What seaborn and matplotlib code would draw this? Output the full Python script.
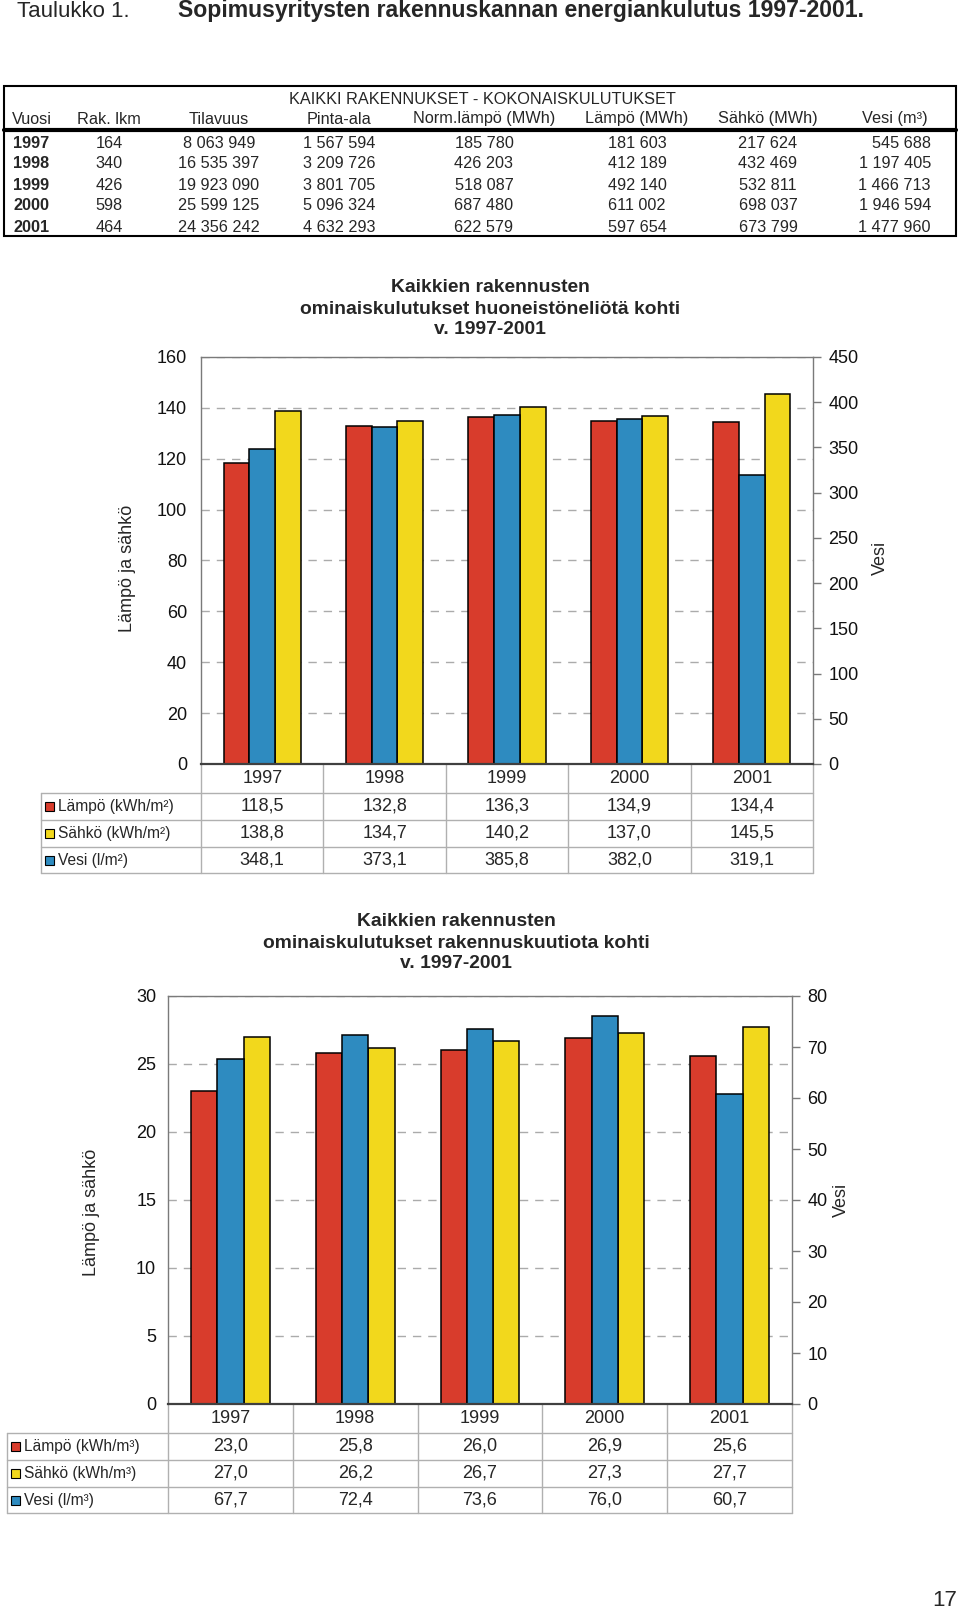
import pandas as pd
import matplotlib

matplotlib.use('Agg')

import matplotlib.pyplot as plt
import matplotlib.transforms as mtransforms
from matplotlib.patches import Rectangle
import seaborn as sns

sns.set_theme(style='white')
plt.rcParams['font.family'] = ['Liberation Sans', 'DejaVu Sans']

#Top table - total consumption
col_headers = ['Vuosi', 'Rak. lkm', 'Tilavuus', 'Pinta-ala', 'Norm.lämpö (MWh)',
               'Lämpö (MWh)', 'Sähkö (MWh)', 'Vesi (m³)']
table_years = ['1997', '1998', '1999', '2000', '2001']
rak_lkm = ['164', '340', '426', '598', '464']
tilavuus = ['8 063 949', '16 535 397', '19 923 090', '25 599 125', '24 356 242']
pinta_ala = ['1 567 594', '3 209 726', '3 801 705', '5 096 324', '4 632 293']
norm_lampo = ['185 780', '426 203', '518 087', '687 480', '622 579']
lampo_mwh = ['181 603', '412 189', '492 140', '611 002', '597 654']
sahko_mwh = ['217 624', '432 469', '532 811', '698 037', '673 799']
vesi_tot = ['545 688', '1 197 405', '1 466 713', '1 946 594', '1 477 960']

#Chart data
years = ['1997', '1998', '1999', '2000', '2001']
lampo_m2 = [118.5, 132.8, 136.3, 134.9, 134.4]
sahko_m2 = [138.8, 134.7, 140.2, 137.0, 145.5]
vesi_m2 = [348.1, 373.1, 385.8, 382.0, 319.1]

lampo_m3 = [23.0, 25.8, 26.0, 26.9, 25.6]
sahko_m3 = [27.0, 26.2, 26.7, 27.3, 27.7]
vesi_m3 = [67.7, 72.4, 73.6, 76.0, 60.7]

labels_m2 = ['Lämpö (kWh/m²)', 'Sähkö (kWh/m²)', 'Vesi (l/m²)']
labels_m3 = ['Lämpö (kWh/m³)', 'Sähkö (kWh/m³)', 'Vesi (l/m³)']

hue_order = ['Lämpö', 'Vesi', 'Sähkö']
pal = {'Lämpö': '#d83c2c', 'Vesi': '#2e8bc0', 'Sähkö': '#f2d81c'}
grid_col = '#ababab'
line_col = '#b0b0b0'

W, H = 960, 1612
fig = plt.figure(figsize=(9.6, 16.12), dpi=100)

page = fig.add_axes([0, 0, 1, 1])
page.set_xlim(0, W)
page.set_ylim(H, 0)
page.set_autoscale_on(False)
page.axis('off')

#Page title
page.text(17, 17, 'Taulukko 1.', fontsize=16, va='baseline', ha='left')
page.text(178, 17, 'Sopimusyritysten rakennuskannan energiankulutus 1997-2001.',
          fontsize=16.6, fontweight='bold', va='baseline', ha='left')

#Top table
tfs = 11.7
page.add_patch(Rectangle((4, 86), 952, 150, fill=False, ec='black', lw=1.5))
page.text(482, 103.5, 'KAIKKI RAKENNUKSET - KOKONAISKULUTUKSET', fontsize=tfs, ha='center', va='baseline')
col_x = [32, 109, 219, 339, 484, 637, 768, 895]
for cx, h in zip(col_x, col_headers):
    page.text(cx, 123.5, h, fontsize=tfs, ha='center', va='baseline')
page.plot([4, 956], [130, 130], color='black', lw=3)
row_y = [147.5, 168.5, 189.5, 210.5, 231.5]
cols = [rak_lkm, tilavuus, pinta_ala, norm_lampo, lampo_mwh, sahko_mwh]
for i, ry in enumerate(row_y):
    page.text(13, ry, table_years[i], fontsize=tfs, fontweight='bold', ha='left', va='baseline')
    for cx, col in zip(col_x[1:7], cols):
        page.text(cx, ry, col[i], fontsize=tfs, ha='center', va='baseline')
    page.text(931, ry, vesi_tot[i], fontsize=tfs, ha='right', va='baseline')


def fmt(v):
    return f'{v:.1f}'.replace('.', ',')


def draw_chart(px, lampo, sahko, vesi, lmax, lstep, rmax, rstep, row_labels,
               tab_left, titles, title_x, title_y, ylab_pos, vesi_pos, lpad):
    x0, y0, x1, y1 = px
    ax = fig.add_axes([x0 / W, 1 - y1 / H, (x1 - x0) / W, (y1 - y0) / H])
    df = pd.DataFrame({'year': years * 3,
                       'series': ['Lämpö'] * 5 + ['Sähkö'] * 5 + ['Vesi'] * 5,
                       'value': lampo + sahko + vesi})
    kw = dict(x='year', y='value', hue='series', hue_order=hue_order, palette=pal,
              dodge=True, width=0.63, gap=0, saturation=1, edgecolor='black',
              linewidth=1.1, legend=False, errorbar=None)
    sns.barplot(data=df[df.series != 'Vesi'], ax=ax, **kw)
    ax2 = ax.twinx()
    sns.barplot(data=df[df.series == 'Vesi'], ax=ax2, **kw)

    ax.set_ylim(0, lmax)
    ax.set_yticks(range(0, lmax + 1, lstep))
    ax.set_axisbelow(True)
    ax.yaxis.grid(True, color=grid_col, linestyle=(0, (6, 5)), lw=1)
    ax.tick_params(axis='y', length=0, pad=lpad, labelsize=13, colors='#111111')
    ax.tick_params(axis='x', length=0, labelbottom=False)
    ax.set_xlabel('')
    ax.set_ylabel('')
    for s in ['top', 'left']:
        ax.spines[s].set_color('#7a7a7a')
        ax.spines[s].set_linewidth(1)
    ax.spines['right'].set_visible(False)
    ax.spines['bottom'].set_visible(False)

    ax2.set_ylim(0, rmax)
    ax2.set_yticks(range(0, rmax + 1, rstep))
    ax2.tick_params(axis='y', length=6, width=1, color='#7a7a7a', pad=5,
                    labelsize=13, labelcolor='#111111', right=True)
    ax2.tick_params(axis='x', length=0, labelbottom=False)
    ax2.set_xlabel('')
    ax2.set_ylabel('')
    ax2.spines['right'].set_color('#7a7a7a')
    ax2.spines['right'].set_linewidth(1)
    ax2.spines['bottom'].set_color('#404040')
    ax2.spines['bottom'].set_linewidth(1.6)
    ax2.spines['top'].set_visible(False)
    ax2.spines['left'].set_visible(False)

    #Titles and axis labels
    for t, ty in zip(titles, title_y):
        page.text(title_x, ty, t, fontsize=13.9, fontweight='bold', ha='center', va='center')
    page.text(ylab_pos[0], ylab_pos[1], 'Lämpö ja sähkö', fontsize=13, rotation=90,
              ha='center', va='center')
    page.text(vesi_pos[0], vesi_pos[1], 'Vesi', fontsize=13, rotation=90,
              ha='center', va='center')

    #Data table under the chart
    tr = mtransforms.blended_transform_factory(ax.transData, page.transData)
    lines_y = [y1 + 28.5, y1 + 56, y1 + 83, y1 + 109]
    text_y = [y1 + 14.5, y1 + 42, y1 + 69.5, y1 + 96]
    for b in [i - 0.5 for i in range(len(years) + 1)]:
        page.plot([b, b], [y1, lines_y[-1]], transform=tr, color=line_col, lw=1)
    for ly in lines_y:
        page.plot([tab_left, x1], [ly, ly], color=line_col, lw=1)
    page.plot([tab_left, tab_left], [lines_y[0], lines_y[-1]], color=line_col, lw=1)
    for i, yr in enumerate(years):
        page.text(i, text_y[0], yr, transform=tr, fontsize=13, ha='center', va='center')
    series_rows = [(lampo, 'Lämpö'), (sahko, 'Sähkö'), (vesi, 'Vesi')]
    for r, ((vals, key), lab) in enumerate(zip(series_rows, row_labels)):
        ty = text_y[r + 1]
        page.add_patch(Rectangle((tab_left + 4, ty - 4.5), 9, 9, facecolor=pal[key],
                                 edgecolor='black', lw=0.8))
        page.text(tab_left + 17, ty, lab, fontsize=11.2, ha='left', va='center')
        for i, v in enumerate(vals):
            page.text(i, ty, fmt(v), transform=tr, fontsize=13, ha='center', va='center')
    return ax, ax2


draw_chart((201, 357, 813, 764), lampo_m2, sahko_m2, vesi_m2, 160, 20, 450, 50,
           labels_m2, 41,
           ['Kaikkien rakennusten', 'ominaiskulutukset huoneistöneliötä kohti', 'v. 1997-2001'],
           490, [288, 309, 330], (128, 568), (880, 558), 10)

draw_chart((168, 996, 792, 1404), lampo_m3, sahko_m3, vesi_m3, 30, 5, 80, 10,
           labels_m3, 7,
           ['Kaikkien rakennusten', 'ominaiskulutukset rakennuskuutiota kohti', 'v. 1997-2001'],
           456, [922, 943, 963], (92, 1212), (841, 1200), 8.5)

page.text(945, 1611, '17', fontsize=16, ha='center', va='bottom')

plt.savefig('out.png', dpi=100)
